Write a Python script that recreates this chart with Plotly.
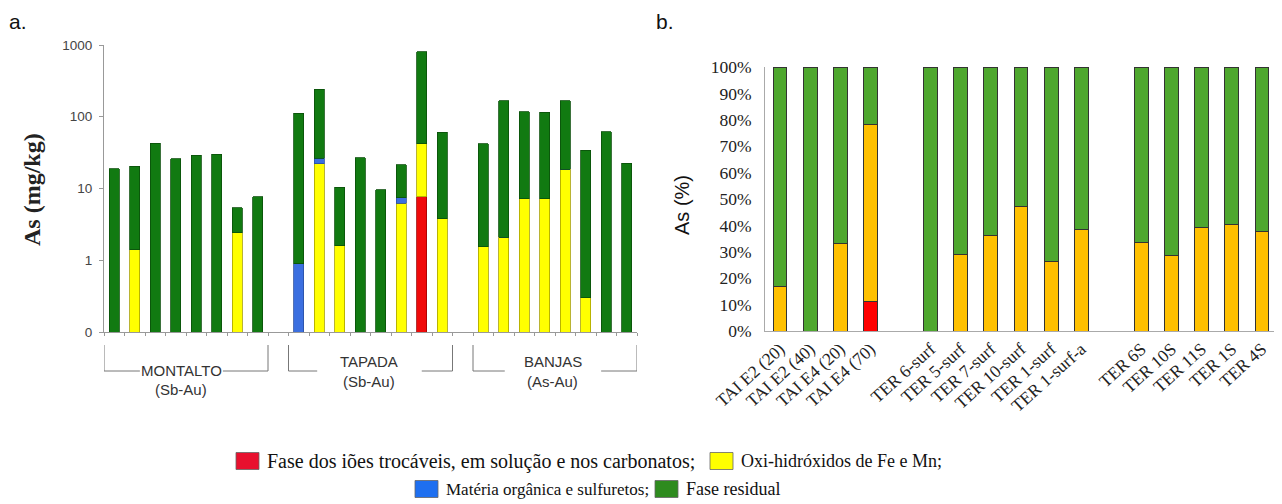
import plotly.graph_objects as go
from plotly.subplots import make_subplots

# ---- panel a: As (mg/kg) per fraction, three mining areas, 8 samples each
groups_a = ["MONTALTO", "TAPADA", "BANJAS"]
groups_a_sub = ["(Sb-Au)", "(Sb-Au)", "(As-Au)"]
red_a = [0, 0, 0, 0, 0, 0, 0, 0,
         0, 0, 0, 0, 0, 0, 7.7, 0,
         0, 0, 0, 0, 0, 0, 0, 0]
yellow_a = [0, 1.4, 0, 0, 0, 0, 2.4, 0,
            0, 22, 1.6, 0, 0, 6.2, 34.2, 3.8,
            1.55, 2.1, 7.2, 7.2, 18.6, 0.3, 0, 0]
blue_a = [0, 0, 0, 0, 0, 0, 0, 0,
          0.9, 4.4, 0, 0, 0, 1.2, 0, 0,
          0, 0, 0, 0, 0, 0, 0, 0]
green_a = [19, 19.1, 43, 26, 29, 30, 3.0, 7.7,
           111.1, 216.6, 8.8, 27, 9.6, 14.1, 769, 57.2,
           40.4, 165, 110.8, 108.8, 148.4, 33.7, 62, 22.5]

# ---- panel b: As (%) per fraction
samples_b = [
    ["TAI E2 (20)", "TAI E2 (40)", "TAI E4 (20)", "TAI E4 (70)"],
    ["TER 6-surf", "TER 5-surf", "TER 7-surf", "TER 10-surf", "TER 1-surf", "TER 1-surf-a"],
    ["TER 6S", "TER 10S", "TER 11S", "TER 1S", "TER 4S"],
]
red_b = [0, 0, 0, 11,
         0, 0, 0, 0, 0, 0,
         0, 0, 0, 0, 0]
orange_b = [17, 0, 33, 67.2,
            0, 29, 36.3, 47.1, 26.5, 38.5,
            33.4, 28.7, 39.2, 40.5, 37.8]
green_b = [83, 100, 67, 21.8,
           100, 71, 63.7, 52.9, 73.5, 61.5,
           66.6, 71.3, 60.8, 59.5, 62.2]

legend_labels = ["Fase dos iões trocáveis, em solução e nos carbonatos;",
                 "Oxi-hidróxidos de Fe e Mn;",
                 "Matéria orgânica e sulfuretos;",
                 "Fase residual"]

SERIF = "Liberation Serif, Times New Roman, serif"
SANS = "Liberation Sans, Arial, sans-serif"
# page body has an 8px margin, so the figure is sized to end at the window edge
OFF = 8
W, H = 1282 - OFF, 504 - OFF


def px(x):
    return (x - OFF) / W


def py(y):
    return (H - (y - OFF)) / H


# slot positions with one empty slot between groups
xa = []
for g in range(len(groups_a)):
    xa += [g * 9 + i for i in range(8)]
xb, names_b = [], []
pos = 0
for grp in samples_b:
    for name in grp:
        xb.append(pos)
        names_b.append(name)
        pos += 1
    pos += 1

fig = make_subplots(rows=1, cols=2)

for vals, col, edge in [(red_a, "#f00a0a", "#a00000"),
                        (yellow_a, "#ffff00", "#a8a000"),
                        (blue_a, "#3b6fe0", "#2a4fa0"),
                        (green_a, "#117a11", "#0a4f0a")]:
    fig.add_trace(go.Bar(x=xa, y=vals, width=0.5, marker_color=col,
                         marker_line=dict(color=edge, width=0.8),
                         showlegend=False), row=1, col=1)

for vals, col in [(red_b, "#ff0000"), (orange_b, "#ffc000"), (green_b, "#4ea72e")]:
    fig.add_trace(go.Bar(x=xb, y=vals, width=0.46, marker_color=col,
                         marker_line=dict(color="#333", width=1),
                         showlegend=False), row=1, col=2)

fig.update_layout(
    barmode="stack", width=W, height=H,
    margin=dict(l=0, r=0, t=0, b=0, autoexpand=False),
    plot_bgcolor="white", paper_bgcolor="white",
)

fig.update_xaxes(domain=[px(104), px(637)], range=[-0.5, 25.5], showline=True,
                 linecolor="#999", linewidth=1, ticks="outside", ticklen=3,
                 tickcolor="#999", tickvals=[k + 0.5 for k in range(-1, 26)],
                 showticklabels=False, showgrid=False, zeroline=False,
                 automargin=False, row=1, col=1)
fig.update_yaxes(domain=[py(332), py(45)], type="log", range=[-1, 3], showline=True,
                 linecolor="#999", linewidth=1, ticks="outside", ticklen=4,
                 tickcolor="#999", tickvals=[0.1, 1, 10, 100, 1000],
                 ticktext=["0", "1", "10", "100", "1000"], ticklabelstandoff=4,
                 tickfont=dict(family=SANS, size=13.5, color="#444"),
                 showgrid=False, zeroline=False, automargin=False, row=1, col=1)

fig.update_xaxes(domain=[px(765), px(1277)], range=[-0.5, 16.5], showline=True,
                 linecolor="#aaa", linewidth=1, ticks="", tickvals=xb,
                 ticktext=names_b, tickangle=-42,
                 tickfont=dict(family=SERIF, size=17.5, color="#222"),
                 showgrid=False, zeroline=False, automargin=False, row=1, col=2)
fig.update_yaxes(domain=[py(331), py(67)], range=[0, 100], showline=True,
                 linecolor="#aaa", linewidth=1, ticks="", dtick=10,
                 ticksuffix="%", ticklabelstandoff=9,
                 tickfont=dict(family=SERIF, size=17.5, color="#222"),
                 showgrid=False, zeroline=False, automargin=False, row=1, col=2)

ann = []
# panel letters and axis titles
ann.append(dict(text="a.", x=px(7), y=py(22), xref="paper", yref="paper", showarrow=False,
                xanchor="left", yanchor="middle", font=dict(family=SANS, size=21, color="#111")))
ann.append(dict(text="b.", x=px(654), y=py(22), xref="paper", yref="paper", showarrow=False,
                xanchor="left", yanchor="middle", font=dict(family=SANS, size=21, color="#111")))
ann.append(dict(text="<b>As (mg/kg)</b>", x=px(32), y=py(190), xref="paper", yref="paper",
                xanchor="center", yanchor="middle", showarrow=False, textangle=-90,
                font=dict(family=SERIF, size=24, color="#222")))
ann.append(dict(text="As (%)", x=px(682), y=py(205), xref="paper", yref="paper",
                xanchor="center", yanchor="middle", showarrow=False, textangle=-90,
                font=dict(family=SANS, size=20, color="#111")))

# group brackets under panel a
shapes = []
y_top, y_bot = py(345), py(371)
gaps = [(1.75, 2.2), (1.4, 1.5), (1.55, 1.75)]
text_y = [370, 362, 362]
for g, name in enumerate(groups_a):
    x0 = g * 9 - 0.5
    x1 = g * 9 + 7.5
    a, b = gaps[g]
    for seg in [(x0, y_top, x0, y_bot), (x1, y_top, x1, y_bot),
                (x0, y_bot, x0 + a, y_bot), (x1 - b, y_bot, x1, y_bot)]:
        shapes.append(dict(type="line", xref="x", yref="paper", x0=seg[0], y0=seg[1],
                           x1=seg[2], y1=seg[3], line=dict(color="#777", width=1)))
    xc = (x0 + a + x1 - b) / 2
    ann.append(dict(text=name, x=xc, y=py(text_y[g]), xref="x", yref="paper",
                    xanchor="center", yanchor="middle", showarrow=False,
                    font=dict(family=SANS, size=15, color="#333")))
    ann.append(dict(text=groups_a_sub[g], x=xc, y=py(text_y[g] + 19), xref="x",
                    yref="paper", xanchor="center", yanchor="middle", showarrow=False,
                    font=dict(family=SANS, size=15, color="#333")))

# legend drawn as two rows below both panels
leg_colors = ["#e8102e", "#ffff00", "#1e6ff0", "#2e8b1e"]
leg_pos = [(236, 461), (710, 461), (415, 489), (655, 489)]
leg_size = [20, 18, 17, 18]
for lab, col, (lx, ly), fs in zip(legend_labels, leg_colors, leg_pos, leg_size):
    shapes.append(dict(type="rect", xref="paper", yref="paper",
                       x0=px(lx), x1=px(lx + 23), y0=py(ly + 8.5), y1=py(ly - 8.5),
                       fillcolor=col, line=dict(color="#666", width=0.8)))
    ann.append(dict(text=lab, x=px(lx + 29), y=py(ly), xref="paper",
                    yref="paper", showarrow=False, xanchor="left", yanchor="middle",
                    font=dict(family=SERIF, size=fs, color="#111")))

fig.update_layout(annotations=ann, shapes=shapes)

fig.write_html("out.html")
